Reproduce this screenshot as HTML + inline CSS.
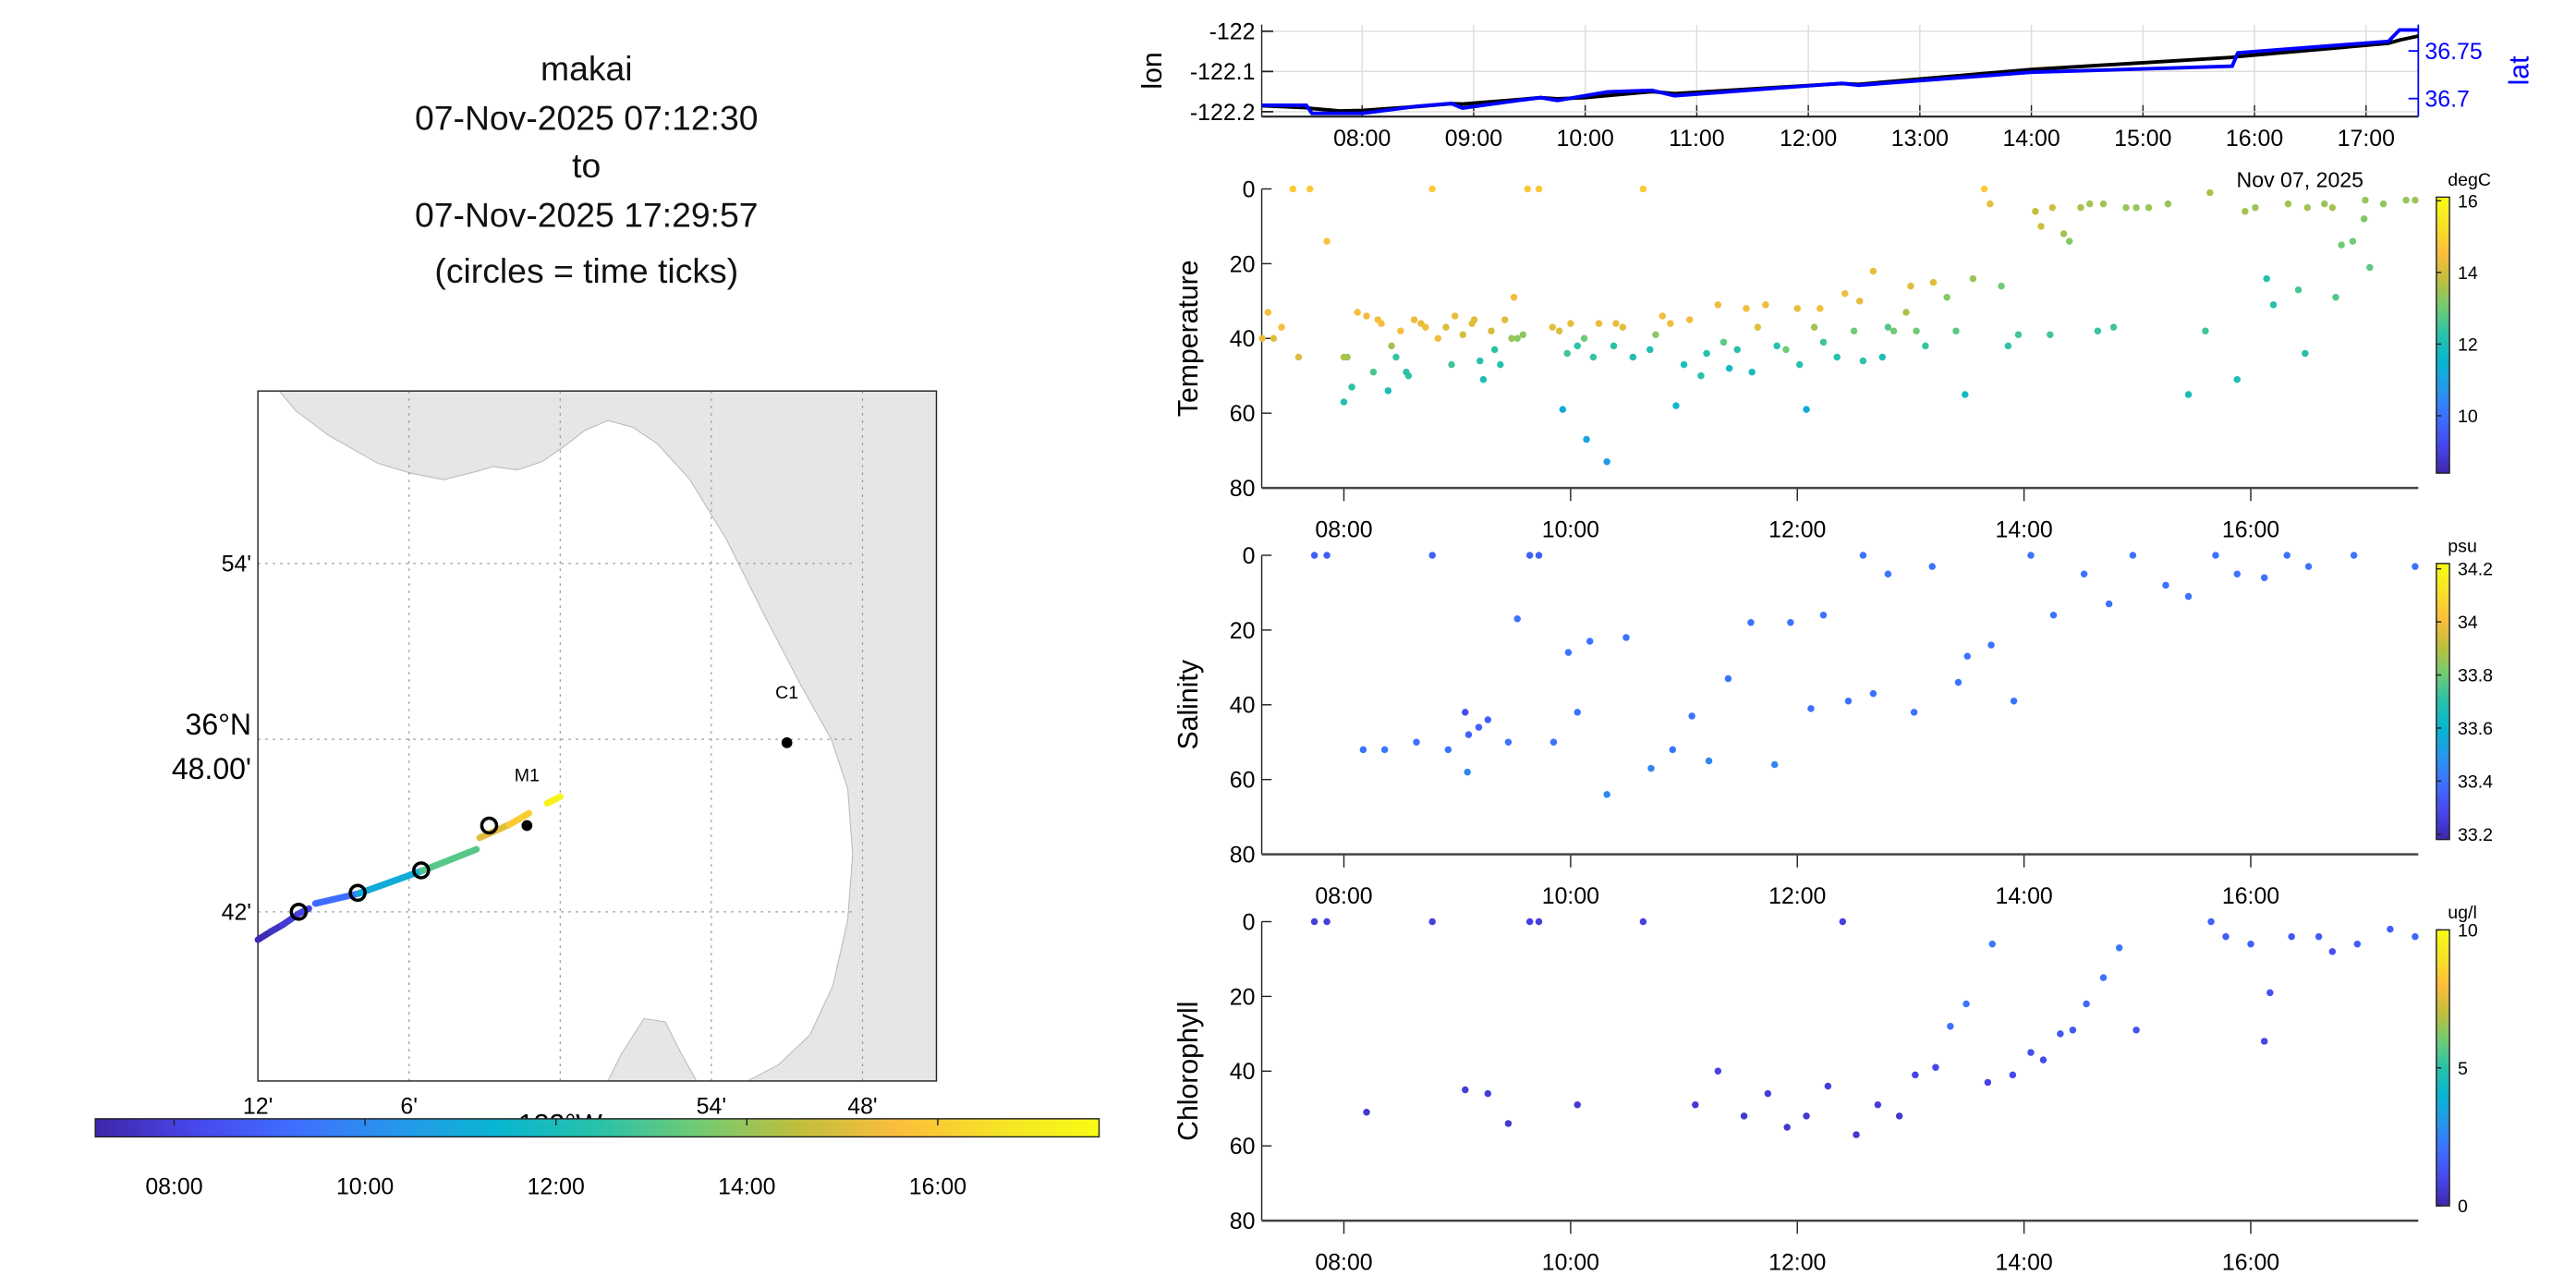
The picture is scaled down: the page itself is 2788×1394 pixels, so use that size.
<!DOCTYPE html>
<html><head><meta charset="utf-8"><style>
html,body{margin:0;padding:0;background:#fff}
svg{display:block;font-family:"Liberation Sans",sans-serif}
</style></head><body>
<svg id="s" width="2788" height="1394" viewBox="0 0 1568 784" preserveAspectRatio="none" xmlns="http://www.w3.org/2000/svg">
<g font-size="21" text-anchor="middle" fill="#111">
<text x="357" y="49">makai</text>
<text x="357" y="79">07-Nov-2025 07:12:30</text>
<text x="357" y="108">to</text>
<text x="357" y="138">07-Nov-2025 17:29:57</text>
<text x="357" y="172">(circles = time ticks)</text>
</g>
<g id="map"></g>
<g id="top"></g>
<g id="pT"></g>
<g id="pS"></g>
<g id="pC"></g>
</svg>
<script>
// ---- data ----
const trackTime=[7.10,7.5,7.55,7.8,8.0,8.5,8.8,8.9,9.4,9.6,9.75,10.0,10.2,10.6,10.8,12.3,12.45,14.0,15.8,15.85,17.2,17.3,17.47];
const trackLon=[-122.185,-122.19,-122.192,-122.198,-122.197,-122.187,-122.18,-122.181,-122.17,-122.165,-122.168,-122.165,-122.16,-122.15,-122.155,-122.13,-122.132,-122.095,-122.065,-122.063,-122.03,-122.022,-122.012];
const trackLat=[36.693,36.693,36.6845,36.6845,36.6845,36.692,36.6948,36.69,36.698,36.701,36.698,36.703,36.707,36.7086,36.703,36.716,36.714,36.7276,36.734,36.748,36.760,36.772,36.772];
const mapTime=[7.21,7.5,7.8,8.0,8.2,null,8.5,10.0,12.0,14.0,null,14.5,15.5,16.2,null,16.9,17.3];
const mapLon=[-122.2,-122.1913,-122.1837,-122.1728,-122.1663,null,-122.162,-122.1337,-122.0913,-122.0554,null,-122.0533,-122.0337,-122.0207,null,-122.0087,-122.0];
const mapLat=[36.6838,36.6886,36.6924,36.699,36.7019,null,36.7048,36.7105,36.7238,36.7362,null,36.7429,36.7505,36.7571,null,36.7629,36.7667];
const circleLon=[-122.173,-122.134,-122.092,-122.047];
const circleLat=[36.700,36.711,36.724,36.750];
const stationName=["M1","C1"];
const stationLon=[-122.022,-121.850];
const stationLat=[36.750,36.798];
const tempTime=[7.33,7.38,7.55,7.7,7.85,8.0,8.03,8.12,8.2,8.26,8.39,8.46,8.57,8.68,8.78,8.9,8.95,9.13,9.23,9.33,9.5,9.53,9.62,9.72,9.84,9.93,10.06,10.14,10.32,10.46,10.64,10.81,10.93,11.15,11.3,11.47,11.65,11.82,12.0,12.08,12.23,12.42,12.58,12.67,12.8,12.96,13.13,13.32,13.48,13.65,13.7,13.86,14.1,14.23,14.4,14.58,14.79,14.99,15.27,15.45,15.64,15.88,16.04,16.14,16.33,16.48,16.65,16.8,17.01,17.17,17.37,
8.0,8.07,8.3,8.33,8.42,8.5,8.55,8.62,8.72,8.83,8.98,9.05,9.15,9.2,9.3,9.38,9.42,9.48,9.58,9.9,9.97,10.0,10.12,10.2,10.25,10.38,10.4,10.55,10.7,10.75,10.88,11.0,11.05,11.2,11.35,11.4,11.55,11.6,11.72,11.9,12.02,12.15,12.2,12.35,12.5,12.55,12.75,12.85,13.0,13.05,13.2,13.4,13.55,13.8,13.95,14.15,14.25,14.35,14.5,14.65,14.7,14.9,15.1,15.6,15.95,16.2,16.42,16.5,16.72,16.75,16.9,17.0,17.05,17.45,7.28,7.45,7.6];
const tempDepth=[33,40,0,0,14,57,45,33,34,49,54,45,50,36,0,37,47,36,51,43,29,40,0,0,37,59,42,67,73,37,0,34,58,50,31,43,37,42,32,59,41,28,46,22,37,33,42,29,55,0,4,42,6,39,14,4,37,5,4,55,1,51,5,24,4,44,4,15,3,4,3,
45,53,35,36,42,38,49,35,37,40,34,39,35,46,38,47,35,40,39,38,44,36,40,45,36,42,36,45,43,39,36,47,35,44,41,48,32,49,31,43,47,37,32,45,38,30,45,38,26,38,25,38,24,26,39,10,5,12,5,38,4,5,5,38,6,31,27,5,5,29,14,8,21,3,40,37,45];
const tempVal=[14.5,14.2,14.8,14.8,14.6,12.1,13.5,14.5,14.4,12.6,12.0,12.4,12.3,14.3,14.8,14.1,12.5,14.2,12.0,12.3,14.4,13.2,14.8,14.8,14.2,11.3,12.3,11.0,10.8,14.2,14.8,14.4,11.6,12.2,14.4,12.2,14.2,12.2,14.3,11.2,12.5,14.4,12.3,14.3,12.7,13.6,12.4,13.2,11.8,14.8,14.3,12.3,13.8,12.5,13.2,13.5,12.5,13.4,13.4,11.9,13.6,12.0,13.4,12.2,13.5,12.2,13.4,13.0,13.4,13.3,13.4,
13.6,12.3,14.5,14.5,13.5,14.5,12.3,14.4,14.4,14.4,14.3,14.0,14.2,12.2,14.0,12.2,14.2,13.4,13.3,14.1,12.5,14.3,13.0,12.4,14.3,12.3,14.3,12.0,12.0,13.3,14.4,12.0,14.4,12.2,12.8,11.8,14.4,11.9,14.4,13.0,12.2,13.5,14.4,12.2,13.0,14.3,12.0,13.0,14.2,13.0,14.2,12.8,13.4,13.0,12.5,14.0,14.0,13.5,13.6,12.4,13.5,13.4,13.4,12.5,13.5,12.2,12.6,13.5,13.5,12.7,13.0,13.2,12.8,13.4,14.3,14.5,14.2];
const salTime=[7.74,7.85,8.17,8.36,8.64,8.78,8.92,9.07,9.1,9.09,9.19,9.27,9.45,9.53,9.64,9.72,9.85,9.98,10.06,10.17,10.32,10.49,10.71,10.9,11.07,11.22,11.39,11.59,11.8,11.94,12.12,12.23,12.45,12.58,12.67,12.8,13.03,13.19,13.42,13.5,13.71,13.91,14.06,14.26,14.53,14.75,14.96,15.25,15.45,15.69,15.88,16.12,16.32,16.51,16.91,17.45];
const salDepth=[0,0,52,52,50,0,52,42,48,58,46,44,50,17,0,0,50,26,42,23,64,22,57,52,43,55,33,18,56,18,41,16,39,0,37,5,42,3,34,27,24,39,0,16,5,13,0,8,11,0,5,6,0,3,0,3];
const salVal=[33.35,33.35,33.4,33.4,33.4,33.35,33.4,33.3,33.35,33.45,33.35,33.35,33.4,33.4,33.35,33.35,33.4,33.4,33.4,33.4,33.45,33.4,33.45,33.4,33.4,33.45,33.4,33.4,33.45,33.4,33.4,33.4,33.4,33.4,33.4,33.4,33.4,33.4,33.4,33.4,33.4,33.4,33.4,33.4,33.4,33.4,33.4,33.4,33.4,33.4,33.4,33.4,33.4,33.4,33.4,33.4];
const chlTime=[7.74,7.85,8.2,8.78,9.07,9.27,9.45,9.64,9.72,10.06,10.64,11.1,11.3,11.53,11.74,11.91,12.08,12.27,12.4,12.52,12.71,12.9,13.04,13.22,13.35,13.49,13.68,13.72,13.9,14.06,14.17,14.32,14.43,14.55,14.7,14.84,14.99,15.65,15.78,16.0,16.17,16.12,16.36,16.6,16.72,16.94,17.23,17.45];
const chlDepth=[0,0,51,0,45,46,54,0,0,49,0,49,40,52,46,55,52,44,0,57,49,52,41,39,28,22,43,6,41,35,37,30,29,22,15,7,29,0,4,6,19,32,4,4,8,6,2,4];
const chlVal=[0.8,0.8,0.6,0.8,0.7,0.7,0.6,0.8,0.8,0.6,0.8,0.6,0.8,0.6,0.7,0.6,0.6,0.7,0.8,0.6,0.7,0.6,0.9,1.0,2.0,2.2,0.9,2.3,1.0,1.2,1.1,1.4,1.4,1.8,2.0,2.2,1.3,1.6,1.5,1.6,1.3,0.9,1.4,1.5,1.2,1.5,1.6,1.8];
const timeTicks=[8,9,10,11,12,13,14,15,16,17];
const lonTicks=[-122,-122.1,-122.2];
const latTicks=[36.75,36.7];

// ---- helpers ----
const NS="http://www.w3.org/2000/svg";
function mk(tag,attrs,parent,txt){const e=document.createElementNS(NS,tag);for(const k in attrs)e.setAttribute(k,attrs[k]);if(txt!==undefined)e.textContent=txt;parent.appendChild(e);return e;}
const stops=[[0,[62,38,168]],[0.1,[71,71,235]],[0.2,[62,111,255]],[0.3,[39,150,235]],[0.4,[8,181,208]],[0.5,[40,193,170]],[0.6,[113,203,116]],[0.7,[192,190,61]],[0.8,[253,189,61]],[0.9,[245,227,39]],[1,[249,251,21]]];
function parula(f){f=Math.max(0,Math.min(1,f));for(let i=1;i<stops.length;i++){if(f<=stops[i][0]){const a=stops[i-1],b=stops[i];const u=(f-a[0])/(b[0]-a[0]);const c=a[1].map((v,j)=>Math.round(v+(b[1][j]-v)*u));return `rgb(${c[0]},${c[1]},${c[2]})`;}}return 'rgb(249,251,21)';}
function hh(t){return (t<10?'0':'')+t+':00';}

// ---- map ----
const mapG=document.getElementById('map');
const mlx=v=>157+(v+122.2)*920, mly=v=>450-(v-36.8)*1050;
mk('rect',{x:157,y:238,width:413,height:420,fill:'#fff'},mapG);
const land=mk('polygon',{points:"170,238 180,250 200,265 230,282 250,288 270,292 290,287 300,284 315,286 330,281 343,272 356,262 370,256 385,260 400,270 420,292 442,328 466,376 488,418 506,450 516,480 519,520 516,560 507,600 493,630 474,648 455,658 570,658 570,238",fill:'#e6e6e6',stroke:'#bbb','stroke-width':0.6},mapG);


const land2=mk('polygon',{points:"370,658 378,642 392,620 405,622 414,640 424,658",fill:'#e6e6e6',stroke:'#bbb','stroke-width':0.6},mapG);


[249,341,433,525].forEach(x=>{const g=mk('line',{x1:x,y1:238,x2:x,y2:658,stroke:'#999','stroke-width':0.7,'stroke-dasharray':'1.5 3'},mapG);

});
[343,450,555].forEach(y=>{const g=mk('line',{x1:157,y1:y,x2:520,y2:y,stroke:'#999','stroke-width':0.7,'stroke-dasharray':'1.5 3'},mapG);

});
const mb=mk('rect',{x:157,y:238,width:413,height:420,fill:'none',stroke:'#222','stroke-width':0.8},mapG);


[[157,"12'"],[249,"6'"],[433,"54'"],[525,"48'"]].forEach(([x,t])=>{const e=mk('text',{x:x,y:678,'font-size':14,'text-anchor':'middle'},mapG,t);

});
const wl=mk('text',{x:341,y:690,'font-size':17,'text-anchor':'middle'},mapG,'122°W');


[[343,"54'"],[555,"42'"]].forEach(([y,t])=>{const e=mk('text',{x:153,y:y+5,'font-size':14,'text-anchor':'end'},mapG,t);

});
const l1=mk('text',{x:153,y:447,'font-size':18,'text-anchor':'end'},mapG,'36°N');


const l2=mk('text',{x:153,y:474,'font-size':18,'text-anchor':'end'},mapG,"48.00'");


const T0=7.2083,T1=17.499;
for(let i=1;i<mapTime.length;i++){if(mapTime[i]===null||mapTime[i-1]===null)continue;const f=((mapTime[i-1]+mapTime[i])/2-T0)/(T1-T0);const s=mk('line',{x1:mlx(mapLon[i-1]),y1:mly(mapLat[i-1]),x2:mlx(mapLon[i]),y2:mly(mapLat[i]),stroke:parula(f),'stroke-width':4,'stroke-linecap':'round'},mapG);

}
circleLon.forEach((v,i)=>{const c=mk('circle',{cx:mlx(v),cy:mly(circleLat[i]),r:4.5,fill:'none',stroke:'#000','stroke-width':2},mapG);

});
stationLon.forEach((v,i)=>{const c=mk('circle',{cx:mlx(v),cy:mly(stationLat[i]),r:3.3,fill:'#000'},mapG);


const t=mk('text',{x:mlx(v),y:mly(stationLat[i])-27,'font-size':11,'text-anchor':'middle'},mapG,stationName[i]);

});
// time colorbar
const cbx=h=>106+(h-8)*58.1;
const defs=mk('defs',{},mapG);
const pg=mk('linearGradient',{id:'pg',x1:0,x2:1,y1:0,y2:0},defs);
for(let i=0;i<=20;i++)mk('stop',{offset:i/20,'stop-color':parula(i/20)},pg);
const tcb=mk('rect',{x:58,y:681,width:611,height:11,fill:'url(#pg)',stroke:'#222','stroke-width':0.8},mapG);


[8,10,12,14,16].forEach(h=>{mk('line',{x1:cbx(h),y1:681,x2:cbx(h),y2:685,stroke:'#222','stroke-width':0.8},mapG);const t=mk('text',{x:cbx(h),y:727,'font-size':14,'text-anchor':'middle'},mapG,hh(h));

});

// ---- top panel ----
const topG=document.getElementById('top');
const tx=t=>768+(t-7.10)*67.9, ly=v=>19+(-122-v)*245, aty=v=>31-(v-36.75)*580;
timeTicks.forEach(h=>{const g=mk('line',{x1:tx(h),y1:15,x2:tx(h),y2:71,stroke:'#ddd','stroke-width':0.8},topG);


mk('line',{x1:tx(h),y1:64,x2:tx(h),y2:71,stroke:'#222','stroke-width':0.8},topG);const t=mk('text',{x:tx(h),y:89,'font-size':14,'text-anchor':'middle'},topG,hh(h));

});
lonTicks.forEach(v=>{mk('line',{x1:768,y1:ly(v),x2:1472,y2:ly(v),stroke:'#ddd','stroke-width':0.8},topG);mk('line',{x1:768,y1:ly(v),x2:775,y2:ly(v),stroke:'#222'},topG);const t=mk('text',{x:764,y:ly(v)+5,'font-size':14,'text-anchor':'end'},topG,String(v));

});
latTicks.forEach(v=>{mk('line',{x1:1466,y1:aty(v),x2:1472,y2:aty(v),stroke:'#00f'},topG);const t=mk('text',{x:1476,y:aty(v)+5,'font-size':14,fill:'#00f'},topG,String(v));

});
mk('line',{x1:768,y1:15,x2:768,y2:71,stroke:'#222','stroke-width':0.8},topG);
mk('line',{x1:768,y1:71,x2:1472,y2:71,stroke:'#222','stroke-width':1.2},topG);
mk('line',{x1:1472,y1:15,x2:1472,y2:71,stroke:'#00f','stroke-width':1},topG);
const lonL=mk('polyline',{points:trackTime.map((t,i)=>tx(t)+','+ly(trackLon[i])).join(' '),fill:'none',stroke:'#000','stroke-width':2.2},topG);


const latL=mk('polyline',{points:trackTime.map((t,i)=>tx(t)+','+aty(trackLat[i])).join(' '),fill:'none',stroke:'#0000ff','stroke-width':2.2},topG);


const lt=mk('text',{x:0,y:0,'font-size':17,'text-anchor':'middle',transform:'translate(707,43) rotate(-90)'},topG,'lon');


const at=mk('text',{x:0,y:0,'font-size':17,'text-anchor':'middle',fill:'#00f',transform:'translate(1539,43) rotate(-90)'},topG,'lat');



// ---- scatter panels ----
function panel(id,y0,title,times,depths,vals,vmin,vmax,cbTicks,unit,extra){
  const g=document.getElementById(id);const H=182;
  const px=t=>768+(t-7.275)*69, py=d=>y0+d/80*H;
  mk('rect',{x:768,y:y0,width:704,height:H,fill:'#fff'},g);
  [8,10,12,14,16].forEach(h=>{mk('line',{x1:px(h),y1:y0+H,x2:px(h),y2:y0+H+8,stroke:'#222','stroke-width':0.8},g);const t=mk('text',{x:px(h),y:y0+H+30,'font-size':14,'text-anchor':'middle'},g,hh(h));
  
  });
  [0,20,40,60,80].forEach(d=>{mk('line',{x1:768,y1:py(d),x2:774,y2:py(d),stroke:'#222','stroke-width':0.8},g);const t=mk('text',{x:764,y:py(d)+5,'font-size':14,'text-anchor':'end'},g,String(d));
  
  });
  mk('line',{x1:768,y1:y0,x2:768,y2:y0+H,stroke:'#222','stroke-width':0.8},g);
  mk('line',{x1:768,y1:y0+H,x2:1472,y2:y0+H,stroke:'#444','stroke-width':1.4},g);
  const yt=mk('text',{x:0,y:0,'font-size':17,'text-anchor':'middle',transform:`translate(729,${y0+H/2}) rotate(-90)`},g,title);
  
  
  if(extra){const e=mk('text',{x:1400,y:y0-1,'font-size':13,'text-anchor':'middle'},g,extra);
  
  }
  times.forEach((t,i)=>{const c=mk('circle',{cx:px(t),cy:py(depths[i]),r:2.1,fill:parula((vals[i]-vmin)/(vmax-vmin))},g);
  
  });
  const cy0=y0+5,cy1=y0+173;
  const gid='cg'+id;const grad=mk('linearGradient',{id:gid,x1:0,x2:0,y1:1,y2:0},g);
  for(let i=0;i<=20;i++)mk('stop',{offset:i/20,'stop-color':parula(i/20)},grad);
  const cb=mk('rect',{x:1483,y:cy0,width:8,height:cy1-cy0,fill:`url(#${gid})`,stroke:'#222','stroke-width':0.8},g);
  
  
  cbTicks.forEach(v=>{const yy=cy1-(v-vmin)/(vmax-vmin)*(cy1-cy0);mk('line',{x1:1483,y1:yy,x2:1486,y2:yy,stroke:'#222','stroke-width':0.8},g);const t=mk('text',{x:1496,y:yy+4,'font-size':11},g,String(v));
  
  });
  const u=mk('text',{x:1490,y:y0-2,'font-size':11},g,unit);
  
  
}
panel('pT',115,'Temperature',tempTime,tempDepth,tempVal,8.4,16.1,[10,12,14,16],'degC','Nov 07, 2025');
panel('pS',338,'Salinity',salTime,salDepth,salVal,33.18,34.22,[33.2,33.4,33.6,33.8,34,34.2],'psu');
panel('pC',561,'Chlorophyll',chlTime,chlDepth,chlVal,0,10,[0,5,10],'ug/l');
</script>
</body></html>
